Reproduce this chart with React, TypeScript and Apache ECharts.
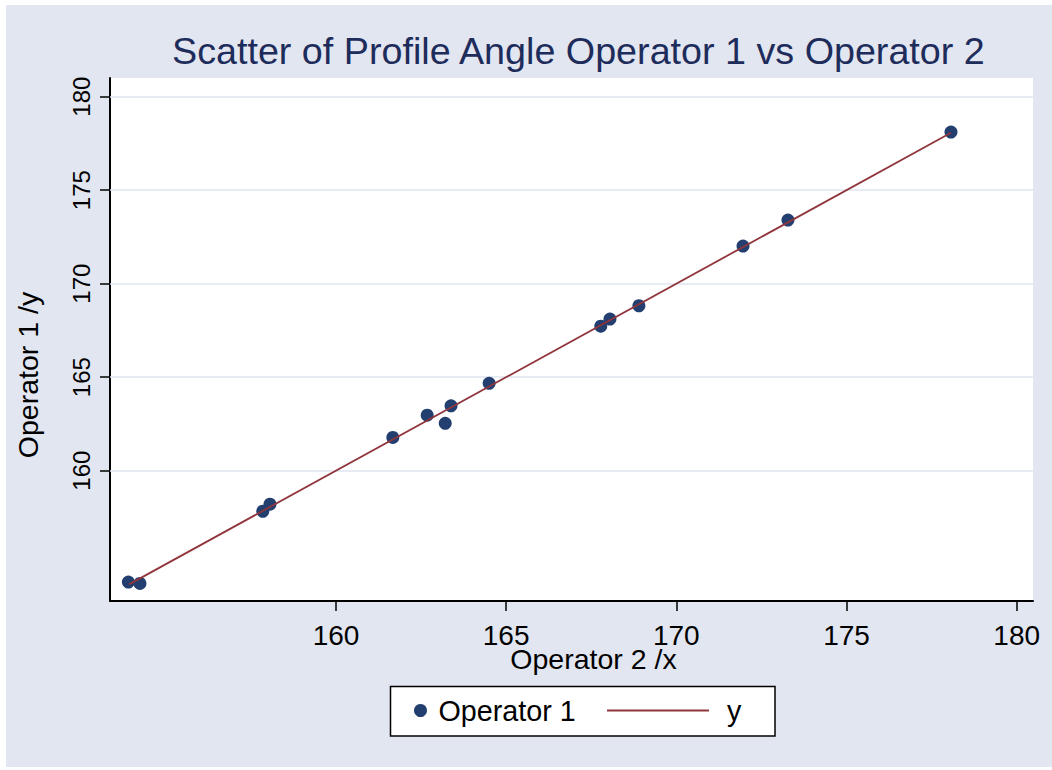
import React, { useEffect, useRef } from "react";
import * as echarts from "echarts";

// Operator 2 (x) vs Operator 1 (y) readings
const opX = [153.90, 154.24, 157.85, 158.06, 161.67, 162.68, 163.21, 163.38, 164.50, 167.78, 168.05, 168.90, 171.96, 173.28, 178.07];
const opY = [154.04, 153.97, 157.83, 158.21, 161.78, 162.97, 162.53, 163.47, 164.67, 167.73, 168.11, 168.82, 172.01, 173.40, 178.11];
// line of equality "y"
const lineX = [153.92, 178.07];
const lineY = [153.92, 178.07];
const tickValues = [160, 165, 170, 175, 180];

const FONT = "'Liberation Sans', Arial, sans-serif";

export default function App() {
  const ref = useRef<HTMLDivElement>(null);
  useEffect(() => {
    if (!ref.current) return;
    const chart = echarts.init(ref.current, undefined, { renderer: "svg" });
    const axisCommon = {
      type: "value" as const,
      axisLine: { show: true, onZero: false, lineStyle: { color: "#000", width: 2 } },
      axisTick: { show: true, length: 10, customValues: tickValues, lineStyle: { color: "#000", width: 1.5 } },
      splitLine: { show: false },
      nameLocation: "middle" as const,
      nameMoveOverlap: false,
    };
    chart.setOption({
      animation: false,
      backgroundColor: "#e2e6f0",
      textStyle: { fontFamily: FONT },
      title: {
        text: "Scatter of Profile Angle Operator 1 vs Operator 2",
        left: 172,
        top: 32,
        padding: 0,
        textStyle: { fontSize: 37.7, fontWeight: "normal", color: "#1e2c5b", fontFamily: FONT },
      },
      grid: { left: 110, top: 78, right: 19, bottom: 169, show: true, backgroundColor: "#ffffff", borderWidth: 0 },
      xAxis: {
        ...axisCommon,
        min: 153.36,
        max: 180.48,
        axisLabel: { customValues: tickValues, fontSize: 28, color: "#000", margin: 20, fontFamily: FONT },
        name: "Operator 2 /x",
        nameGap: 43,
        nameTextStyle: { fontSize: 28.5, color: "#000", padding: [0, 0, 0, 44], fontFamily: FONT },
      },
      yAxis: {
        ...axisCommon,
        min: 153.03,
        max: 181.0,
        axisLabel: { customValues: tickValues, fontSize: 24, color: "#000", margin: 17, rotate: 90, fontFamily: FONT },
        name: "Operator 1 /y",
        nameGap: 68,
        nameTextStyle: { fontSize: 28.5, color: "#000", padding: [0, 71, 0, 0], fontFamily: FONT },
      },
      legend: [
        {
          data: ["Operator 1"],
          left: 414,
          top: 696,
          padding: 0,
          itemWidth: 26,
          itemHeight: 13,
          icon: "circle",
          selectedMode: false,
          z: 10,
          itemStyle: { opacity: 1 },
          textStyle: { fontSize: 28.7, color: "#000", fontFamily: FONT },
        },
        {
          data: [{ name: "y", icon: "rect" }],
          left: 607,
          top: 696,
          padding: 0,
          itemWidth: 102,
          itemHeight: 2,
          selectedMode: false,
          z: 10,
          itemStyle: { color: "#90353b", borderWidth: 0 },
          textStyle: { fontSize: 28.7, color: "#000", padding: [0, 0, 0, 13], fontFamily: FONT },
        },
      ],
      graphic: [
        { type: "rect", shape: { x: 0, y: 0, width: 1052, height: 5 }, style: { fill: "#ffffff" }, silent: true },
        { type: "rect", shape: { x: 0, y: 0, width: 6, height: 770 }, style: { fill: "#ffffff" }, silent: true },
        { type: "rect", shape: { x: 0, y: 767, width: 1052, height: 3 }, style: { fill: "#ffffff" }, silent: true },
        {
          type: "rect",
          shape: { x: 390.5, y: 686.5, width: 384.5, height: 49.5 },
          style: { fill: "#ffffff", stroke: "#000", lineWidth: 1.5 },
          silent: true,
          z: 1,
        },
      ],
      series: [
        {
          type: "scatter",
          name: "Operator 1",
          data: opX.map((x, i) => [x, opY[i]]),
          symbolSize: 13,
          itemStyle: { color: "#223f70", opacity: 1 },
          z: 2,
          markLine: {
            silent: true,
            symbol: "none",
            z: 1,
            label: { show: false },
            lineStyle: { color: "#dfe4ef", width: 1.5, type: "solid" },
            data: tickValues.map((v) => ({ yAxis: v })),
          },
        },
        {
          type: "line",
          name: "y",
          data: lineX.map((x, i) => [x, lineY[i]]),
          symbol: "none",
          z: 3,
          lineStyle: { color: "#90353b", width: 1.8 },
          itemStyle: { color: "#90353b" },
        },
      ],
    });
    return () => chart.dispose();
  }, []);
  return (
    <div
      ref={ref}
      style={{ position: "fixed", left: 0, top: 0, width: 1052, height: 770 }}
    />
  );
}
